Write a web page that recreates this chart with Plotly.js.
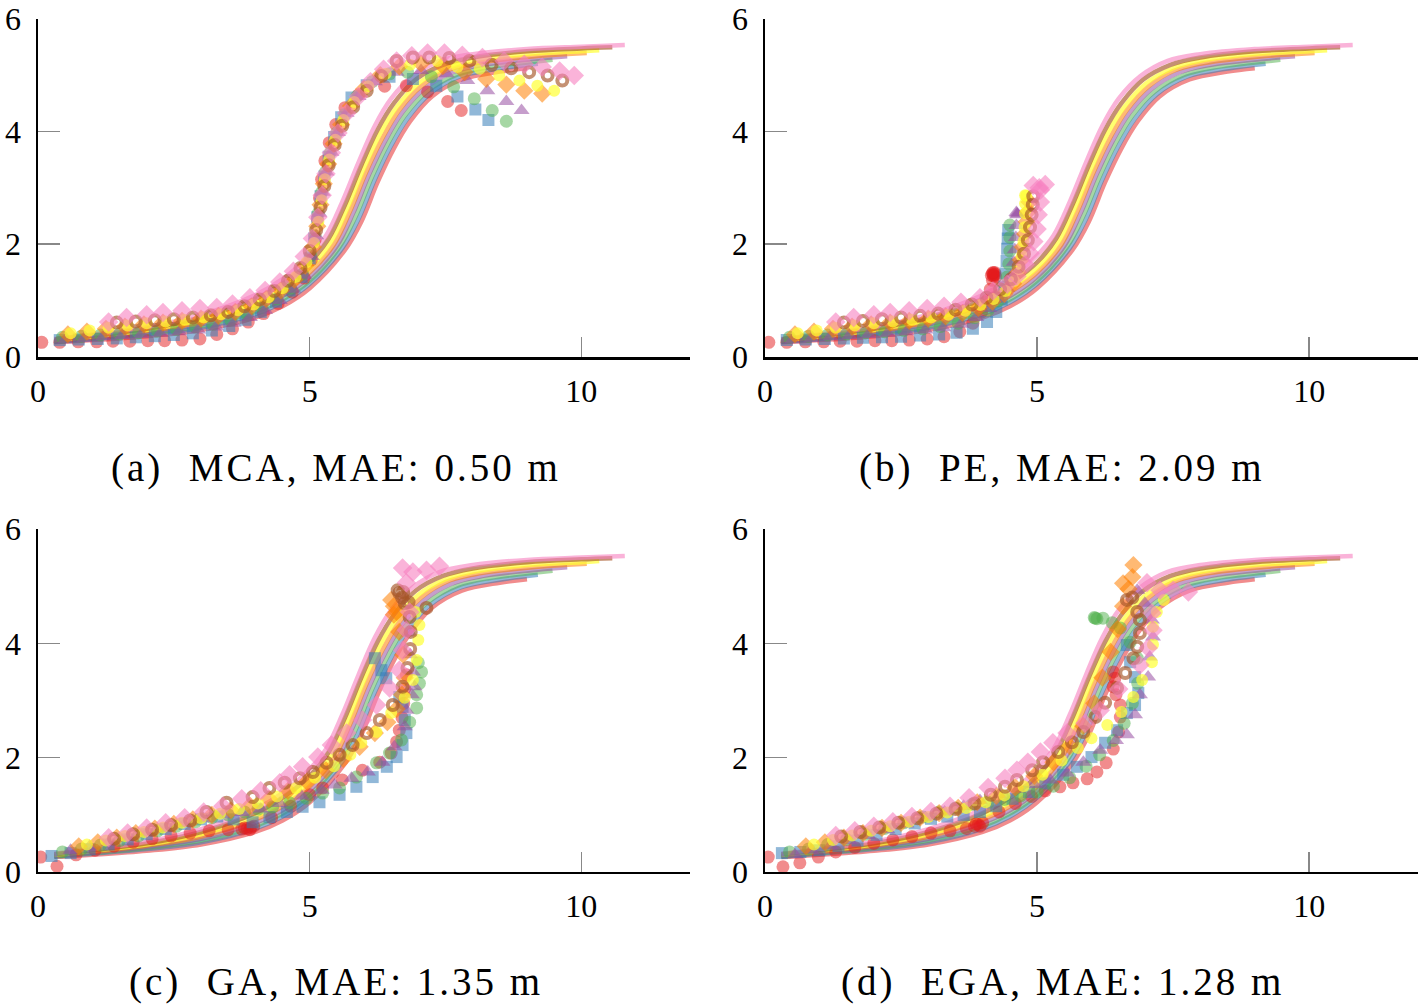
<!DOCTYPE html>
<html>
<head>
<meta charset="utf-8">
<script src="https://cdn.plot.ly/plotly-3.0.1.min.js"></script>
<style>
  html, body { margin: 0; padding: 0; background: #fff; }
  #plotly_graph { width: 1418px; height: 1004px; }
  .annotation-text { letter-spacing: 3px; }
</style>
</head>
<body>
<div id="plotly_graph"></div>
<script>
// *********************************************************************************************
// DATA

// reference trajectories (same in all four panels)
const GT_RED    = [[0.3,0.26],[1,0.3],[2,0.37],[3,0.48],[4,0.7],[4.5,0.9],[5,1.22],[5.65,1.9],[5.95,2.4],[6.25,3.1],[6.55,3.7],[6.85,4.18],[7.25,4.62],[7.8,4.92],[8.5,5.06],[9.0,5.12]]
const GT_BLUE   = [[0.3,0.27],[1,0.32],[2,0.4],[3,0.52],[4,0.76],[4.5,0.97],[5,1.3],[5.6,1.93],[5.9,2.45],[6.2,3.15],[6.5,3.75],[6.8,4.23],[7.2,4.66],[7.75,4.97],[8.4,5.1],[9.2,5.2]]
const GT_GREEN  = [[0.3,0.27],[1,0.33],[2,0.42],[3,0.55],[4,0.8],[4.5,1.02],[5,1.35],[5.55,1.95],[5.85,2.5],[6.15,3.2],[6.45,3.8],[6.75,4.28],[7.15,4.7],[7.7,5.0],[8.3,5.14],[9,5.22],[9.47,5.27]]
const GT_PURPLE = [[0.3,0.28],[1,0.34],[2,0.44],[3,0.58],[4,0.86],[4.5,1.08],[5,1.42],[5.5,1.97],[5.8,2.55],[6.1,3.25],[6.4,3.85],[6.7,4.33],[7.1,4.75],[7.6,5.04],[8.2,5.18],[9,5.27],[9.74,5.33]]
const GT_ORANGE = [[0.3,0.29],[1,0.35],[2,0.46],[3,0.62],[4,0.92],[4.5,1.15],[5,1.5],[5.45,2.0],[5.75,2.6],[6.05,3.3],[6.35,3.9],[6.65,4.38],[7.05,4.8],[7.5,5.07],[8,5.2],[9,5.32],[10.1,5.39]]
const GT_YELLOW = [[0.3,0.3],[1,0.37],[2,0.48],[3,0.66],[4,0.97],[4.5,1.22],[5,1.58],[5.4,2.05],[5.7,2.65],[6,3.35],[6.3,3.97],[6.6,4.43],[7,4.85],[7.5,5.12],[8,5.25],[9,5.37],[10,5.42],[10.33,5.44]]
const GT_BROWN  = [[0.3,0.31],[1,0.38],[2,0.5],[3,0.7],[4,1.03],[4.5,1.3],[5,1.68],[5.35,2.1],[5.65,2.7],[5.95,3.4],[6.25,4.03],[6.55,4.5],[6.95,4.92],[7.45,5.18],[8,5.31],[9,5.42],[10,5.47],[10.57,5.49]]
const GT_PINK   = [[0.3,0.32],[1,0.4],[2,0.53],[3,0.75],[4,1.1],[4.5,1.38],[5,1.8],[5.3,2.15],[5.6,2.75],[5.9,3.45],[6.2,4.1],[6.5,4.58],[6.9,4.98],[7.4,5.25],[8,5.37],[9,5.46],[10,5.5],[10.8,5.53]]

// (a) MCA
const MCA_RED    = [[0.07,0.26],[0.4,0.26],[0.74,0.27],[1.08,0.27],[1.38,0.28],[1.69,0.28],[2.02,0.29],[2.33,0.29],[2.65,0.3],[2.98,0.32],[3.29,0.4],[3.58,0.5],[3.87,0.62],[4.15,0.77],[4.42,0.95],[4.68,1.15],[4.9,1.4],[5.03,1.72],[5.1,2.08],[5.14,2.45],[5.18,2.82],[5.22,3.15],[5.28,3.48],[5.36,3.8],[5.48,4.12],[5.65,4.42],[5.9,4.65],[6.38,4.8],[6.78,4.81],[7.17,4.7],[7.54,4.53],[7.79,4.37]]
const MCA_BLUE   = [[0.4,0.3],[0.75,0.31],[1.1,0.32],[1.45,0.33],[1.8,0.35],[2.15,0.37],[2.5,0.39],[2.85,0.42],[3.2,0.47],[3.52,0.55],[3.82,0.66],[4.1,0.8],[4.38,0.98],[4.63,1.18],[4.85,1.42],[5.0,1.75],[5.08,2.1],[5.14,2.48],[5.2,2.85],[5.27,3.2],[5.35,3.55],[5.45,3.9],[5.58,4.25],[5.77,4.6],[6.05,4.82],[6.47,4.97],[6.9,4.93],[7.33,4.81],[7.72,4.62],[8.05,4.39],[8.29,4.2]]
const MCA_GREEN  = [[0.45,0.35],[0.8,0.37],[1.15,0.39],[1.5,0.41],[1.85,0.43],[2.2,0.46],[2.55,0.49],[2.9,0.53],[3.22,0.58],[3.55,0.65],[3.85,0.75],[4.12,0.88],[4.4,1.03],[4.65,1.22],[4.87,1.47],[5.02,1.8],[5.1,2.15],[5.16,2.55],[5.22,2.92],[5.29,3.28],[5.38,3.62],[5.5,3.97],[5.65,4.3],[5.87,4.62],[6.15,4.88],[6.47,5.02],[6.8,5.05],[7.24,4.97],[7.65,4.79],[8.03,4.58],[8.36,4.37],[8.62,4.18]]
const MCA_PURPLE = [[0.5,0.3],[0.85,0.33],[1.2,0.36],[1.55,0.38],[1.9,0.4],[2.25,0.42],[2.6,0.45],[2.95,0.48],[3.28,0.53],[3.6,0.6],[3.9,0.7],[4.18,0.83],[4.45,1.0],[4.7,1.2],[4.9,1.45],[5.04,1.78],[5.12,2.15],[5.18,2.55],[5.24,2.92],[5.31,3.28],[5.4,3.63],[5.52,3.98],[5.68,4.32],[5.9,4.62],[6.2,4.88],[6.6,5.05],[7.05,5.08],[7.52,5.02],[7.9,4.9],[8.27,4.72],[8.62,4.53],[8.9,4.37]]
const MCA_ORANGE = [[0.55,0.4],[0.9,0.45],[1.25,0.5],[1.6,0.54],[1.95,0.58],[2.3,0.61],[2.65,0.64],[3.0,0.68],[3.32,0.73],[3.63,0.8],[3.93,0.9],[4.2,1.03],[4.47,1.18],[4.72,1.37],[4.92,1.62],[5.06,1.95],[5.14,2.32],[5.2,2.7],[5.26,3.07],[5.34,3.42],[5.44,3.78],[5.58,4.12],[5.76,4.45],[6.0,4.75],[6.3,5.0],[6.65,5.15],[7.05,5.2],[7.45,5.16],[7.85,5.05],[8.25,4.93],[8.62,4.83],[8.95,4.72],[9.28,4.67]]
const MCA_YELLOW = [[0.6,0.42],[0.95,0.47],[1.3,0.52],[1.65,0.56],[2.0,0.6],[2.35,0.63],[2.7,0.66],[3.05,0.7],[3.37,0.76],[3.68,0.83],[3.97,0.93],[4.24,1.06],[4.5,1.22],[4.74,1.42],[4.94,1.68],[5.08,2.02],[5.16,2.4],[5.22,2.78],[5.28,3.15],[5.36,3.5],[5.47,3.85],[5.62,4.2],[5.82,4.52],[6.08,4.8],[6.4,5.02],[6.85,5.18],[7.35,5.25],[7.72,5.14],[8.13,5.11],[8.49,4.99],[8.86,4.9],[9.19,4.81],[9.5,4.72]]
const MCA_BROWN  = [[1.45,0.61],[1.8,0.63],[2.15,0.65],[2.5,0.67],[2.85,0.7],[3.18,0.74],[3.5,0.8],[3.8,0.9],[4.08,1.02],[4.35,1.17],[4.6,1.35],[4.83,1.58],[5.0,1.88],[5.12,2.25],[5.2,2.65],[5.27,3.03],[5.35,3.4],[5.46,3.76],[5.6,4.1],[5.8,4.43],[6.05,4.72],[6.32,4.98],[6.6,5.25],[6.9,5.31],[7.2,5.31],[7.57,5.3],[7.94,5.25],[8.35,5.18],[8.71,5.12],[9.04,5.05],[9.38,4.99],[9.65,4.9]]
const MCA_PINK   = [[1.3,0.62],[1.63,0.7],[2.0,0.75],[2.3,0.79],[2.65,0.82],[2.98,0.86],[3.29,0.88],[3.58,0.94],[3.9,1.05],[4.18,1.18],[4.45,1.33],[4.7,1.52],[4.9,1.78],[5.05,2.1],[5.15,2.48],[5.23,2.87],[5.3,3.25],[5.4,3.62],[5.52,3.97],[5.68,4.32],[5.9,4.62],[6.12,4.88],[6.36,5.1],[6.6,5.25],[6.88,5.34],[7.17,5.39],[7.48,5.39],[7.81,5.35],[8.18,5.31],[8.58,5.25],[8.95,5.19],[9.28,5.14],[9.6,5.07],[9.87,4.99]]

// (b) PE
const PE_RED    = [[0.07,0.26],[0.4,0.26],[0.74,0.27],[1.08,0.27],[1.38,0.28],[1.69,0.28],[2.02,0.29],[2.33,0.29],[2.65,0.3],[2.98,0.32],[3.29,0.36],[3.58,0.45],[3.82,0.6],[3.98,0.8],[4.08,1.0],[4.14,1.2],[4.18,1.36],[4.2,1.46],[4.22,1.5],[4.18,1.48],[4.24,1.42],[4.2,1.44],[4.16,1.45],[4.23,1.47],[4.19,1.5]]
const PE_BLUE   = [[0.4,0.3],[0.75,0.31],[1.1,0.32],[1.45,0.33],[1.8,0.34],[2.15,0.35],[2.5,0.36],[2.85,0.38],[3.2,0.4],[3.52,0.43],[3.82,0.5],[4.08,0.62],[4.25,0.8],[4.35,1.02],[4.4,1.25],[4.42,1.48],[4.44,1.7],[4.45,1.92],[4.46,2.1],[4.47,2.25]]
const PE_GREEN  = [[0.45,0.35],[0.8,0.37],[1.15,0.39],[1.5,0.41],[1.85,0.43],[2.2,0.45],[2.55,0.47],[2.9,0.5],[3.22,0.54],[3.55,0.6],[3.85,0.7],[4.1,0.83],[4.28,1.0],[4.4,1.2],[4.45,1.42],[4.48,1.65],[4.5,1.88],[4.5,2.12],[4.5,2.34]]
const PE_PURPLE = [[0.5,0.3],[0.85,0.33],[1.2,0.36],[1.55,0.38],[1.9,0.4],[2.25,0.42],[2.6,0.45],[2.95,0.48],[3.28,0.52],[3.6,0.58],[3.88,0.7],[4.12,0.86],[4.3,1.03],[4.45,1.22],[4.53,1.45],[4.57,1.68],[4.59,1.9],[4.61,2.12],[4.62,2.33],[4.63,2.54],[4.64,2.52],[4.62,2.56]]
const PE_ORANGE = [[0.55,0.4],[0.9,0.45],[1.25,0.5],[1.6,0.54],[1.95,0.58],[2.3,0.61],[2.65,0.64],[3.0,0.68],[3.32,0.72],[3.63,0.78],[3.92,0.87],[4.18,0.98],[4.4,1.12],[4.56,1.3],[4.65,1.5],[4.7,1.72],[4.74,1.95],[4.78,2.18],[4.81,2.4],[4.84,2.58],[4.86,2.75]]
const PE_YELLOW = [[0.6,0.42],[0.95,0.47],[1.3,0.52],[1.65,0.56],[2.0,0.6],[2.35,0.63],[2.7,0.66],[3.05,0.7],[3.37,0.75],[3.68,0.82],[3.96,0.92],[4.2,1.03],[4.42,1.17],[4.58,1.35],[4.67,1.56],[4.72,1.8],[4.75,2.05],[4.77,2.3],[4.78,2.55],[4.78,2.72],[4.78,2.87],[4.8,2.86]]
const PE_BROWN  = [[1.45,0.61],[1.8,0.64],[2.15,0.67],[2.5,0.7],[2.85,0.73],[3.18,0.77],[3.5,0.84],[3.8,0.93],[4.07,1.05],[4.32,1.2],[4.52,1.38],[4.66,1.6],[4.76,1.83],[4.83,2.07],[4.87,2.3],[4.9,2.52],[4.92,2.7],[4.93,2.85]]
const PE_PINK   = [[1.3,0.62],[1.63,0.7],[2.0,0.75],[2.3,0.79],[2.65,0.82],[2.98,0.86],[3.29,0.9],[3.6,0.97],[3.95,1.05],[4.19,1.17],[4.45,1.29],[4.63,1.43],[4.78,1.64],[4.87,1.84],[4.94,2.05],[5.0,2.27],[5.02,2.52],[5.06,2.75],[5.06,2.96],[4.93,3.04],[5.15,3.06],[5.04,3.0]]

// (c) GA
const GA_RED    = [[0.05,0.26],[0.35,0.1],[0.7,0.3],[1.05,0.38],[1.4,0.45],[1.75,0.52],[2.1,0.58],[2.45,0.63],[2.8,0.68],[3.15,0.72],[3.5,0.74],[3.75,0.75],[3.85,0.76],[3.92,0.78],[3.97,0.8],[3.8,0.77],[3.9,0.74],[4.3,0.95],[4.65,1.15],[5.0,1.35],[5.24,1.47],[5.6,1.61],[5.97,1.78],[6.29,1.92],[6.5,2.08],[6.6,2.28],[6.65,2.48],[6.7,2.7],[6.73,2.95],[6.75,3.2],[6.78,3.45]]
const GA_BLUE   = [[0.25,0.28],[0.6,0.33],[0.95,0.4],[1.3,0.48],[1.65,0.57],[2.0,0.66],[2.35,0.75],[2.7,0.84],[3.0,0.92],[3.3,0.97],[3.6,0.92],[3.95,0.87],[4.26,0.96],[4.58,1.05],[4.87,1.14],[5.18,1.22],[5.55,1.35],[5.86,1.49],[6.16,1.66],[6.42,1.84],[6.6,2.01],[6.71,2.22],[6.78,2.43],[6.75,2.66],[6.71,2.89],[6.65,3.06],[6.41,3.39],[6.32,3.53],[6.2,3.74]]
const GA_GREEN  = [[0.45,0.35],[0.8,0.4],[1.15,0.47],[1.5,0.55],[1.85,0.63],[2.2,0.72],[2.55,0.8],[2.9,0.88],[3.2,0.95],[3.5,1.0],[3.8,1.05],[4.05,1.1],[4.32,1.14],[4.63,1.21],[4.94,1.29],[5.24,1.38],[5.55,1.47],[5.86,1.66],[6.23,1.91],[6.47,2.08],[6.69,2.31],[6.84,2.62],[6.97,2.87],[6.97,3.1],[7.02,3.3],[7.06,3.5],[7.0,3.66]]
const GA_PURPLE = [[0.6,0.38],[0.95,0.45],[1.3,0.52],[1.65,0.6],[2.0,0.68],[2.35,0.76],[2.7,0.85],[3.05,0.93],[3.4,1.0],[3.75,1.04],[4.1,1.1],[4.45,1.2],[4.85,1.33],[5.22,1.43],[5.46,1.52],[5.77,1.64],[6.07,1.75],[6.34,1.92],[6.56,2.19],[6.75,2.54],[6.78,2.83],[6.88,3.1],[6.93,3.24],[6.9,3.5],[6.85,3.8],[6.84,4.18]]
const GA_ORANGE = [[0.75,0.45],[1.1,0.52],[1.45,0.6],[1.8,0.68],[2.15,0.76],[2.5,0.84],[2.85,0.92],[3.2,1.0],[3.55,1.08],[3.9,1.16],[4.25,1.28],[4.6,1.42],[4.95,1.58],[5.3,1.78],[5.62,1.98],[5.92,2.19],[6.2,2.43],[6.43,2.62],[6.6,2.85],[6.7,3.1],[6.75,3.4],[6.72,3.8],[6.65,4.2],[6.55,4.5],[6.5,4.76],[6.55,4.65],[6.6,4.55]]
const GA_YELLOW = [[0.9,0.48],[1.25,0.55],[1.6,0.63],[1.95,0.7],[2.3,0.78],[2.65,0.86],[3.0,0.94],[3.35,1.02],[3.7,1.1],[4.05,1.2],[4.4,1.32],[4.75,1.47],[5.1,1.65],[5.45,1.85],[5.75,2.05],[5.95,2.26],[6.23,2.45],[6.5,2.78],[6.75,3.05],[6.9,3.36],[6.97,3.71],[7.0,4.06],[7.02,4.32],[6.95,4.55]]
const GA_BROWN  = [[1.4,0.58],[1.75,0.66],[2.1,0.74],[2.45,0.82],[2.8,0.9],[3.1,1.05],[3.47,1.21],[3.95,1.31],[4.26,1.47],[4.54,1.56],[4.82,1.64],[5.06,1.75],[5.31,1.91],[5.55,2.05],[5.79,2.22],[6.05,2.43],[6.29,2.66],[6.53,2.92],[6.71,3.24],[6.8,3.57],[6.85,3.9],[6.86,4.2],[6.84,4.46],[6.75,4.7],[6.65,4.88],[6.7,4.8],[6.82,4.72],[6.62,4.93],[6.72,4.9],[7.15,4.62]]
const GA_PINK   = [[1.3,0.6],[1.65,0.68],[2.0,0.77],[2.35,0.86],[2.7,0.95],[3.05,1.05],[3.4,1.15],[3.75,1.28],[4.1,1.42],[4.45,1.56],[4.63,1.7],[4.87,1.84],[5.15,2.01],[5.4,2.22],[5.68,2.43],[5.97,2.66],[6.23,2.92],[6.47,3.22],[6.65,3.53],[6.71,3.88],[6.78,4.23],[6.84,4.55],[6.78,5.06],[6.71,5.32],[6.9,5.25],[7.15,5.28],[7.39,5.35]]

// (d) EGA
const EGA_RED    = [[0.06,0.26],[0.33,0.09],[0.64,0.16],[0.98,0.26],[1.3,0.35],[1.65,0.43],[2.0,0.5],[2.35,0.56],[2.7,0.62],[3.05,0.68],[3.4,0.72],[3.7,0.76],[3.85,0.8],[3.92,0.83],[4.0,0.86],[3.95,0.8],[3.88,0.84],[4.3,1.05],[4.6,1.2],[4.9,1.32],[5.15,1.42],[5.42,1.49],[5.66,1.56],[5.92,1.63],[6.1,1.75],[6.27,1.91],[6.4,2.15],[6.5,2.45],[6.53,2.71],[6.53,2.92],[6.45,3.1],[6.4,3.24],[6.43,3.39],[6.4,3.5]]
const EGA_BLUE   = [[0.31,0.33],[0.65,0.35],[1.0,0.38],[1.35,0.45],[1.7,0.55],[2.05,0.65],[2.4,0.75],[2.75,0.85],[3.05,0.93],[3.35,0.97],[3.65,1.0],[3.95,1.05],[4.25,1.15],[4.55,1.28],[4.85,1.4],[5.15,1.55],[5.48,1.7],[5.73,1.84],[6.0,2.01],[6.25,2.26],[6.47,2.48],[6.65,2.78],[6.8,2.92],[6.86,3.13],[6.8,3.41],[6.71,3.67],[6.65,3.97]]
const EGA_GREEN  = [[0.45,0.35],[0.8,0.4],[1.15,0.48],[1.5,0.57],[1.85,0.66],[2.2,0.76],[2.55,0.86],[2.9,0.96],[3.2,1.05],[3.5,1.12],[3.8,1.18],[4.1,1.22],[4.4,1.27],[4.7,1.33],[5.0,1.4],[5.3,1.5],[5.6,1.65],[5.9,1.85],[6.15,2.05],[6.4,2.3],[6.6,2.6],[6.75,2.95],[6.85,3.3],[6.84,3.74],[6.71,4.02],[6.53,4.27],[6.38,4.36],[6.21,4.44],[6.07,4.44],[6.1,4.43],[6.05,4.45]]
const EGA_PURPLE = [[0.55,0.3],[0.85,0.38],[1.2,0.46],[1.55,0.55],[1.9,0.64],[2.25,0.74],[2.6,0.84],[2.95,0.95],[3.3,1.05],[3.65,1.15],[3.95,1.25],[4.3,1.35],[4.65,1.45],[4.95,1.53],[5.24,1.61],[5.55,1.73],[5.85,1.92],[6.16,2.13],[6.45,2.3],[6.65,2.4],[6.8,2.75],[6.89,3.1],[7.04,3.41],[7.07,3.76],[7.13,4.11],[7.11,4.41],[6.98,4.7],[6.84,4.93]]
const EGA_ORANGE = [[0.75,0.45],[1.1,0.52],[1.45,0.6],[1.8,0.68],[2.15,0.77],[2.5,0.86],[2.85,0.95],[3.2,1.03],[3.55,1.12],[3.9,1.22],[4.25,1.33],[4.6,1.48],[4.95,1.68],[5.3,1.92],[5.6,2.2],[5.85,2.55],[6.05,2.95],[6.2,3.4],[6.35,3.85],[6.48,4.25],[6.58,4.65],[6.58,5.05],[6.75,5.16],[6.77,5.37],[6.68,4.95]]
const EGA_YELLOW = [[0.9,0.48],[1.25,0.56],[1.6,0.64],[1.95,0.72],[2.3,0.8],[2.65,0.88],[3.0,0.96],[3.35,1.04],[3.7,1.12],[4.05,1.22],[4.4,1.34],[4.75,1.5],[5.1,1.7],[5.45,1.95],[5.75,2.17],[6.0,2.34],[6.29,2.57],[6.55,2.8],[6.77,3.06],[6.93,3.36],[7.11,3.67],[7.13,3.98],[7.13,4.29],[7.2,4.55],[7.33,4.76]]
const EGA_BROWN  = [[1.4,0.62],[1.75,0.7],[2.1,0.78],[2.45,0.86],[2.8,0.94],[3.15,1.02],[3.5,1.1],[3.85,1.2],[4.15,1.35],[4.41,1.49],[4.63,1.61],[4.91,1.78],[5.11,1.92],[5.39,2.1],[5.64,2.27],[5.85,2.45],[6.07,2.71],[6.25,2.96],[6.47,3.22],[6.62,3.48],[6.77,3.74],[6.84,3.94],[6.89,4.18],[6.89,4.41],[6.84,4.55],[6.65,4.76],[6.75,4.8]]
const EGA_PINK   = [[1.3,0.64],[1.65,0.72],[2.0,0.8],[2.35,0.88],[2.7,0.97],[3.05,1.06],[3.4,1.15],[3.75,1.3],[4.1,1.48],[4.41,1.64],[4.63,1.78],[4.83,1.92],[5.06,2.1],[5.29,2.26],[5.55,2.43],[5.88,2.6],[6.16,2.83],[6.5,3.2],[6.89,3.62],[7.04,3.92],[7.13,4.23],[7.11,4.53],[7.02,5.06],[7.26,4.93],[7.5,4.93],[7.78,4.9]]

const CAPTIONS = ['(a)  MCA, MAE: 0.50 m', '(b)  PE, MAE: 2.09 m', '(c)  GA, MAE: 1.35 m', '(d)  EGA, MAE: 1.28 m']
const X_TICKS = [0, 5, 10]
const Y_TICKS = [0, 2, 4, 6]


// *********************************************************************************************
// STYLES

const COLORS = {
    red:    'rgba(228,26,28,0.5)',
    blue:   'rgba(55,126,184,0.55)',
    green:  'rgba(77,175,74,0.5)',
    purple: 'rgba(152,78,163,0.55)',
    orange: 'rgba(255,127,0,0.55)',
    yellow: 'rgba(255,255,51,0.7)',
    brown:  'rgba(166,86,40,0.65)',
    pink:   'rgba(247,129,191,0.6)'
}
const SYMBOLS = {
    red: ['circle', 13], blue: ['square', 12], green: ['circle', 13], purple: ['triangle-up', 14],
    orange: ['diamond', 14], yellow: ['circle', 12], brown: ['circle-open', 10], pink: ['diamond', 15]
}
const ORDER = ['red', 'blue', 'green', 'purple', 'orange', 'yellow', 'brown', 'pink']

const GT = {red: GT_RED, blue: GT_BLUE, green: GT_GREEN, purple: GT_PURPLE,
            orange: GT_ORANGE, yellow: GT_YELLOW, brown: GT_BROWN, pink: GT_PINK}
const PANELS = [
    {red: MCA_RED, blue: MCA_BLUE, green: MCA_GREEN, purple: MCA_PURPLE, orange: MCA_ORANGE, yellow: MCA_YELLOW, brown: MCA_BROWN, pink: MCA_PINK},
    {red: PE_RED, blue: PE_BLUE, green: PE_GREEN, purple: PE_PURPLE, orange: PE_ORANGE, yellow: PE_YELLOW, brown: PE_BROWN, pink: PE_PINK},
    {red: GA_RED, blue: GA_BLUE, green: GA_GREEN, purple: GA_PURPLE, orange: GA_ORANGE, yellow: GA_YELLOW, brown: GA_BROWN, pink: GA_PINK},
    {red: EGA_RED, blue: EGA_BLUE, green: EGA_GREEN, purple: EGA_PURPLE, orange: EGA_ORANGE, yellow: EGA_YELLOW, brown: EGA_BROWN, pink: EGA_PINK}
]


// *********************************************************************************************
// TRACES

let data = []
PANELS.forEach((panel, i) => {
    const xa = i === 0 ? 'x' : 'x' + (i + 1)
    const ya = i === 0 ? 'y' : 'y' + (i + 1)

    // reference lines first, estimates drawn on top
    ORDER.forEach(c => {
        data.push({
            type: 'scatter', mode: 'lines', xaxis: xa, yaxis: ya,
            x: GT[c].map(p => p[0]), y: GT[c].map(p => p[1]),
            line: {color: COLORS[c], width: 4.5, shape: 'spline', smoothing: 1.0},
            hoverinfo: 'skip'
        })
    })
    ORDER.forEach(c => {
        const [sym, size] = SYMBOLS[c]
        data.push({
            type: 'scatter', mode: 'markers', xaxis: xa, yaxis: ya,
            x: panel[c].map(p => p[0]), y: panel[c].map(p => p[1]),
            marker: {
                symbol: sym, size: size, color: COLORS[c],
                line: sym === 'circle-open' ? {color: COLORS[c], width: 4} : {width: 0}
            }
        })
    })
})


// *********************************************************************************************
// LAYOUT

const FONT = {family: 'Liberation Serif, DejaVu Serif, serif', size: 32, color: '#000'}

const axisX = (domain, anchor) => ({
    domain: domain, anchor: anchor, range: [0, 12], tickvals: X_TICKS,
    showline: true, linecolor: '#000', linewidth: 2.5, mirror: false,
    ticks: 'inside', ticklen: 20, tickwidth: 1.5, tickcolor: '#888',
    showgrid: false, zeroline: false, tickfont: FONT, ticklabelstandoff: 4,
    ticklabeloverflow: 'allow'
})
const axisY = (domain, anchor) => ({
    domain: domain, anchor: anchor, range: [0, 6], tickvals: Y_TICKS,
    showline: true, linecolor: '#000', linewidth: 2.5, mirror: false,
    ticks: 'inside', ticklen: 22, tickwidth: 1.5, tickcolor: '#888',
    showgrid: false, zeroline: false, tickfont: FONT, ticklabelstandoff: 8,
    ticklabeloverflow: 'allow'
})

// top panels start a few pixels lower so the "6" label stays inside the page
const X_LEFT = [0.0268, 0.4866]
const X_RIGHT = [0.5395, 1.0]
const Y_TOP = [0.6444, 0.9815]
const Y_BOTTOM = [0.1315, 0.4731]

let layout = {
    width: 1418, height: 1004,
    margin: {t: 0, r: 0, b: 0, l: 0},
    paper_bgcolor: '#fff', plot_bgcolor: '#fff',
    showlegend: false,
    xaxis:  axisX(X_LEFT, 'y'),   yaxis:  axisY(Y_TOP, 'x'),
    xaxis2: axisX(X_RIGHT, 'y2'), yaxis2: axisY(Y_TOP, 'x2'),
    xaxis3: axisX(X_LEFT, 'y3'),  yaxis3: axisY(Y_BOTTOM, 'x3'),
    xaxis4: axisX(X_RIGHT, 'y4'), yaxis4: axisY(Y_BOTTOM, 'x4'),
    annotations: [
        {text: CAPTIONS[0], x: 0.237, y: 0.534},
        {text: CAPTIONS[1], x: 0.749, y: 0.534},
        {text: CAPTIONS[2], x: 0.237, y: 0.022},
        {text: CAPTIONS[3], x: 0.749, y: 0.022}
    ].map(a => Object.assign(a, {
        xref: 'paper', yref: 'paper', xanchor: 'center', yanchor: 'middle',
        showarrow: false, font: {family: FONT.family, size: 39, color: '#000'}
    }))
}


// *********************************************************************************************
// CONFIG

const config = {displaylogo: false, displayModeBar: false, staticPlot: true}

Plotly.newPlot('plotly_graph', data, layout, config)
</script>
</body>
</html>
